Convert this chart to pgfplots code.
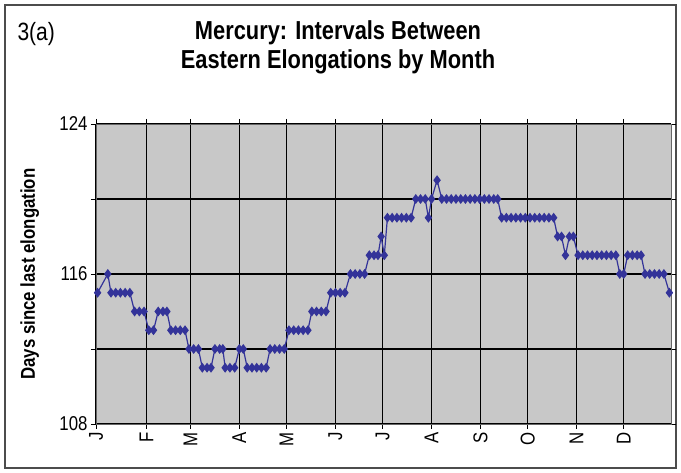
\documentclass[border=0pt]{standalone}
\usepackage{pgfplots}
\pgfplotsset{compat=1.18}
\usepackage{fontspec}
\setmainfont{Liberation Sans}[FakeStretch=0.84]
\definecolor{plotbg}{RGB}{200,200,200}
\definecolor{series}{RGB}{51,51,153}
\begin{document}
\begin{tikzpicture}[x=1pt,y=1pt]
\useasboundingbox (0,0) rectangle (681,473);
\draw[black!70, line width=1.2pt] (5,5) rectangle (676,468);
\node[font=\fontsize{26}{29}\selectfont\bfseries, align=center] at (338,426) {Mercury: Intervals Between\\Eastern Elongations by Month};
\node[font=\fontsize{25}{29}\selectfont, anchor=west] at (14,439) {3(a)};
\begin{axis}[
  scale only axis,
  width=575pt, height=300pt,
  at={(96pt,49pt)}, anchor=south west,
  xmin=0, xmax=365, ymin=108, ymax=124,
  axis background/.style={fill=plotbg},
  axis line style={black!60, line width=0.8pt},
  xtick={0,32,60,91,121,152,182,213,244,274,305,335},
  xticklabels={J,F,M,A,M,J,J,A,S,O,N,D},
  ytick={108,112,116,120,124},
  yticklabels={108,,116,,124},
  grid=major,
  major grid style={black, line width=1.1pt},
  tick align=outside,
  major tick length=5pt,
  tick style={black, line width=0.8pt},
  x tick label style={rotate=90, anchor=east, font=\fontsize{20}{22}\selectfont},
  y tick label style={font=\fontsize{20}{22}\selectfont},
  /pgf/number format/assume math mode=true,
  ylabel={\bfseries Days since last elongation},
  ylabel style={at={(axis description cs:-0.115,0.5)}, anchor=center, font=\fontsize{20}{22}\selectfont},
]
\addplot[color=series, line width=1.2pt, mark=diamond*, mark size=4pt, mark options={fill=series, draw=series}] coordinates {
(1,115) (7.5,116) (9.5,115) (12.5,115) (15.5,115) (18.5,115) (21.5,115)
(24.5,114) (27.5,114) (30.5,114)
(33.5,113) (36.5,113)
(39.5,114) (42.5,114) (45,114)
(47.5,113) (50.5,113) (53.5,113) (56.5,113)
(59,112) (62,112) (65,112)
(67.5,111) (70.5,111) (73,111)
(75.5,112) (78.5,112) (80.5,112)
(82,111) (85,111) (88,111)
(91,112) (93.5,112)
(96,111) (99,111) (102,111) (105,111) (108,111)
(110.5,112) (113.5,112) (116.5,112) (119.5,112)
(122.5,113) (125.5,113) (128.5,113) (131.5,113) (134.5,113)
(137,114) (140,114) (143,114) (146,114)
(149,115) (152,115) (155,115) (158,115)
(161.5,116) (164.5,116) (167.5,116) (170.5,116)
(173.5,117) (176.5,117) (179,117)
(181,118) (183,117)
(185,119) (188,119) (191,119) (194,119) (197,119) (200,119)
(203,120) (206,120) (209,120)
(211,119) (213,120) (216.5,121)
(219.5,120) (222.5,120) (225.5,120) (228.5,120) (231.5,120) (234.5,120) (237.5,120) (240.5,120) (243.5,120) (246.5,120) (249.5,120) (252.5,120) (255,120)
(257.5,119) (260.5,119) (263.5,119) (266.5,119) (269.5,119) (272.5,119) (275.5,119) (278.5,119) (281.5,119) (284.5,119) (287.5,119) (290.5,119)
(293,118) (295.5,118) (298,117) (300.5,118) (303,118)
(306,117) (309,117) (312,117) (315,117) (318,117) (321,117) (324,117) (327,117) (330,117)
(332.5,116) (335,116)
(337.5,117) (340.5,117) (343.5,117) (346,117)
(348.5,116) (351.5,116) (354.5,116) (357.5,116) (360.5,116)
(364,115)
};
\end{axis}
\end{tikzpicture}
\end{document}
